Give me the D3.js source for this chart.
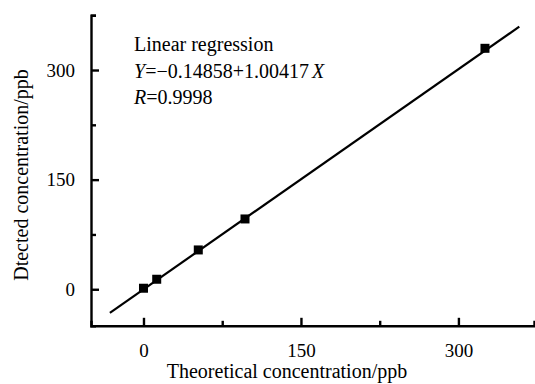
<!DOCTYPE html>
<html>
<head>
<meta charset="utf-8">
<script src="https://cdn.jsdelivr.net/npm/d3@7"></script>
<style>
  html, body { margin: 0; padding: 0; background: #fff; }
  svg { display: block; }
  text { font-family: "Liberation Serif", "Times New Roman", serif; fill: #000; }
</style>
</head>
<body>
<svg id="chart" width="535" height="384"></svg>
<script>
// Calibration points: theoretical vs detected concentration (ppb)
const theoretical = [0, 12.6, 52.2, 96.7, 325.3];
const detected = [1.4, 13.7, 53.8, 96.2, 329.7];

// Fitted regression Y = a + bX
const intercept = -0.14858;
const slope = 1.00417;
const fitRange = [-32, 358];

const majorTicks = [0, 150, 300];
const minorTicks = [75, 225, 375];

const annotation = ["Linear regression", "Y=\u22120.14858+1.00417X", "R=0.9998"];
const xTitle = "Theoretical concentration/ppb";
const yTitle = "Dtected concentration/ppb";

const svg = d3.select("#chart");

const x = d3.scaleLinear().domain([-50, 372]).range([91, 534]);
const y = d3.scaleLinear().domain([-50, 375]).range([325.8, 15.2]);

const axisStroke = 2.4;

// Minor ticks (inward, short)
const xMinor = svg.append("g")
  .attr("transform", `translate(0,${y(-50)})`)
  .call(d3.axisBottom(x).tickValues(minorTicks).tickSize(-5).tickFormat(""));
const yMinor = svg.append("g")
  .attr("transform", `translate(${x(-50)},0)`)
  .call(d3.axisLeft(y).tickValues(minorTicks).tickSize(-5).tickFormat(""));

// Major ticks with labels
const xAxis = svg.append("g")
  .attr("transform", `translate(0,${y(-50)})`)
  .call(d3.axisBottom(x).tickValues(majorTicks).tickSize(-8).tickSizeOuter(-5).tickPadding(18));
const yAxis = svg.append("g")
  .attr("transform", `translate(${x(-50)},0)`)
  .call(d3.axisLeft(y).tickValues(majorTicks).tickSize(-8).tickSizeOuter(-5).tickPadding(16));

[xMinor, yMinor].forEach(g => g.select(".domain").remove());
[xMinor, yMinor, xAxis, yAxis].forEach(g => {
  g.selectAll("line").attr("stroke", "#000").attr("stroke-width", axisStroke);
  g.selectAll(".domain").attr("stroke", "#000").attr("stroke-width", axisStroke);
  g.selectAll("text")
    .attr("font-family", "Liberation Serif, Times New Roman, serif")
    .attr("font-size", 19).attr("fill", "#000");
});
xAxis.selectAll(".tick text").attr("dy", "0.71em");

// Regression line
const fitLine = d3.line().x(d => x(d)).y(d => y(intercept + slope * d));
svg.append("path")
  .attr("d", fitLine(fitRange))
  .attr("fill", "none").attr("stroke", "#000").attr("stroke-width", 2.2);

// Square markers
const size = 9;
svg.append("g").selectAll("rect")
  .data(theoretical.map((t, i) => [t, detected[i]]))
  .join("rect")
  .attr("x", d => x(d[0]) - size / 2)
  .attr("y", d => y(d[1]) - size / 2)
  .attr("width", size).attr("height", size)
  .attr("fill", "#000");

// Annotation block
const note = svg.append("text").attr("font-size", 20);
note.append("tspan").attr("x", 134).attr("y", 51).text(annotation[0]);
const eq = note.append("tspan").attr("x", 134).attr("y", 78);
eq.append("tspan").attr("font-style", "italic").text("Y");
eq.append("tspan").text("=\u22120.14858+1.00417");
eq.append("tspan").attr("font-style", "italic").attr("dx", 3).text("X");
const rr = note.append("tspan").attr("x", 134).attr("y", 104);
rr.append("tspan").attr("font-style", "italic").text("R");
rr.append("tspan").text("=0.9998");

// Axis titles
svg.append("text")
  .attr("x", 287).attr("y", 378)
  .attr("text-anchor", "middle").attr("font-size", 20)
  .text(xTitle);
svg.append("text")
  .attr("transform", "translate(28,175) rotate(-90)")
  .attr("text-anchor", "middle").attr("font-size", 20)
  .text(yTitle);
</script>
</body>
</html>
